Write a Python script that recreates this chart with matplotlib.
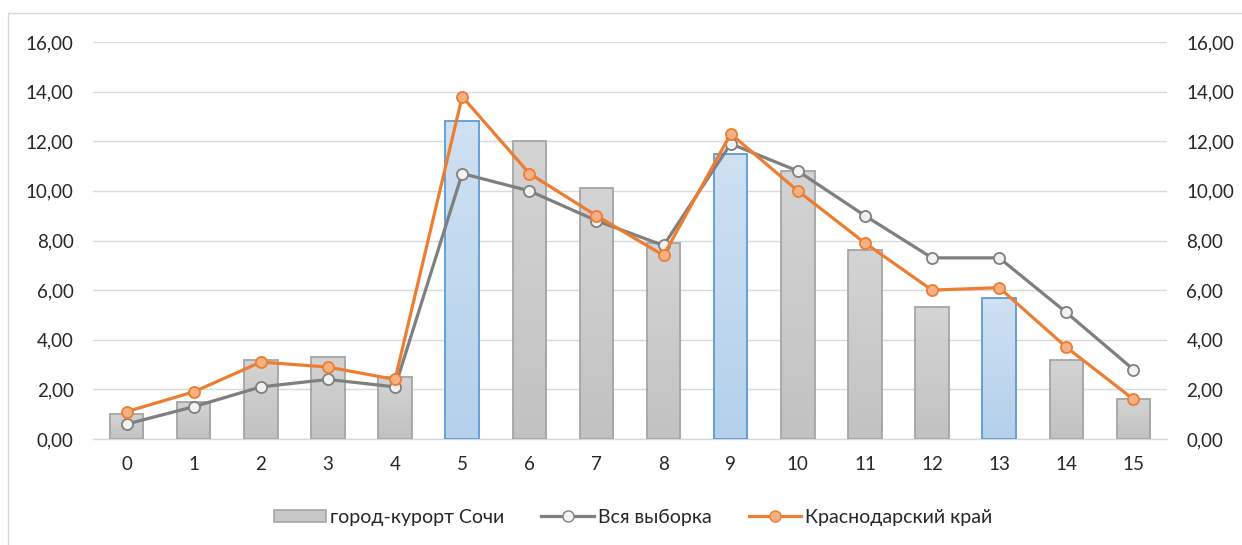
import matplotlib
matplotlib.use("Agg")
import matplotlib.pyplot as plt
import numpy as np
from matplotlib.patches import Rectangle, Patch
from matplotlib.lines import Line2D

categories = [str(i) for i in range(16)]
sochi = [1.0, 1.5, 3.2, 3.3, 2.5, 12.8, 12.0, 10.1, 7.9, 11.5, 10.8, 7.6, 5.3, 5.7, 3.2, 1.6]
whole_sample = [0.6, 1.3, 2.1, 2.4, 2.1, 10.7, 10.0, 8.8, 7.8, 11.9, 10.8, 9.0, 7.3, 7.3, 5.1, 2.8]
krasnodar = [1.1, 1.9, 3.1, 2.9, 2.4, 13.8, 10.7, 9.0, 7.4, 12.3, 10.0, 7.9, 6.0, 6.1, 3.7, 1.6]
highlighted = [5, 9, 13]
yticks = [0, 2, 4, 6, 8, 10, 12, 14, 16]

plt.rcParams['font.family'] = ['Lato', 'DejaVu Sans']

W, H = 1242, 545
fig = plt.figure(figsize=(W / 100, H / 100), dpi=100)
ax = fig.add_axes([93 / W, 1 - 439 / H, (1167 - 93) / W, (439 - 42) / H])

# outer chart border
fig.patches.append(Rectangle((8 / W, -0.05), 1.1, 1 - 13 / H + 0.05, transform=fig.transFigure,
                             fill=False, edgecolor='#D9D9D9', linewidth=1.0))

x = np.arange(len(categories))

bars = ax.bar(x, sochi, width=0.5, zorder=2)
for i, b in enumerate(bars):
    x0, y0 = b.get_x(), b.get_y()
    w, h = b.get_width(), b.get_height()
    t = np.linspace(0, 1, 100).reshape(-1, 1, 1)
    if i in highlighted:
        top = np.array([0xCF, 0xE1, 0xF2]) / 255
        bot = np.array([0xB4, 0xD0, 0xEB]) / 255
        edge = '#5B9BD5'
    else:
        top = np.array([0.83, 0.83, 0.83])
        bot = np.array([0.76, 0.76, 0.76])
        edge = '#A5A5A5'
    img = bot * (1 - t) + top * t
    b.set_facecolor('none')
    b.set_edgecolor(edge)
    b.set_linewidth(1.3)
    b.set_zorder(3)
    im = ax.imshow(img, extent=[x0, x0 + w, y0, y0 + h], origin='lower',
                   aspect='auto', zorder=2, interpolation='bilinear')
    im.set_clip_path(b)

ax.set_xlim(-0.5, 15.5)
ax.set_ylim(0, 16)

ax.plot(x, whole_sample, color='#7F7F7F', lw=2.3, marker='o', ms=8,
        mfc='#F2F2F2', mec='#7F7F7F', mew=1.3, zorder=4)
ax.plot(x, krasnodar, color='#ED7D31', lw=2.3, marker='o', ms=8,
        mfc='#F4B183', mec='#ED7D31', mew=1.3, zorder=5)

ax.set_yticks(yticks)
ax.set_yticklabels([f"{v:.2f}".replace('.', ',') for v in yticks])
ax.set_xticks(x)
ax.set_xticklabels(categories)
ax.grid(axis='y', color='#D9D9D9', lw=1.0, zorder=0)
ax.set_axisbelow(True)
for s in ['top', 'right', 'left']:
    ax.spines[s].set_visible(False)
ax.spines['bottom'].set_color('#D9D9D9')
ax.spines['bottom'].set_linewidth(1.0)
ax.tick_params(axis='y', length=0, labelsize=13.5, labelcolor='#262626', pad=14,
               labelright=True, right=False)
ax.tick_params(axis='x', length=0, labelsize=13.5, labelcolor='#262626', pad=12)

handles = [
    Patch(facecolor='#C8C8C8', edgecolor='#A5A5A5', linewidth=1.2),
    Line2D([], [], color='#7F7F7F', lw=2.3, marker='o', ms=8, mfc='#F2F2F2', mec='#7F7F7F'),
    Line2D([], [], color='#ED7D31', lw=2.3, marker='o', ms=8, mfc='#F4B183', mec='#ED7D31'),
]
labels = ['город-курорт Сочи', 'Вся выборка', 'Краснодарский край']
fig.legend(handles, labels, loc='center', bbox_to_anchor=(633 / W, 1 - 517 / H), ncol=3,
           frameon=False, fontsize=14, handlelength=2.7, handleheight=0.6,
           columnspacing=1.9, handletextpad=0.2, labelcolor='#262626')

fig.savefig('out.png', dpi=100)
